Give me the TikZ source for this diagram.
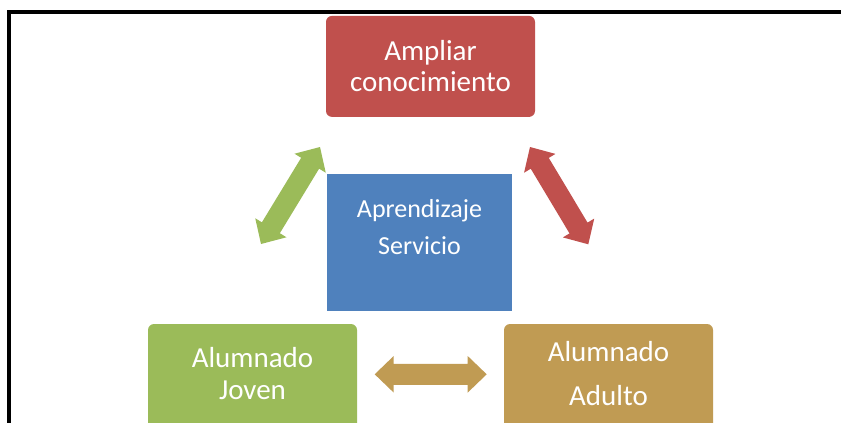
\documentclass[tikz,border=0pt]{standalone}
\usepackage{fontspec}
\setmainfont{Carlito}
\usetikzlibrary{calc}
\definecolor{redbox}{HTML}{C0504D}
\definecolor{bluebox}{HTML}{4F81BD}
\definecolor{greenbox}{HTML}{9BBB59}
\definecolor{goldbox}{RGB}{192,155,83}
\tikzset{
  box/.style={draw=none, inner sep=0pt, outer sep=0pt, rounded corners=6pt, minimum width=209pt},
  lbl/.style={text=white, inner sep=0pt, anchor=base, font=\fontsize{29}{35}\selectfont},
  lblsmall/.style={lbl, font=\fontsize{26}{31}\selectfont},
  frame/.style={draw=black, line width=4.6pt},
}
% block double arrow from tip #1 to tip #2, colour #3
\newcommand{\blockarrow}[3]{%
  \fill[#3] (#1)
    -- ($(#1)!19pt!(#2)!18.3pt!90:(#2)$)
    -- ($(#1)!19pt!(#2)!10.5pt!90:(#2)$)
    -- ($(#2)!19pt!(#1)!10.5pt!-90:(#1)$)
    -- ($(#2)!19pt!(#1)!18.3pt!-90:(#1)$)
    -- (#2)
    -- ($(#2)!19pt!(#1)!18.3pt!90:(#1)$)
    -- ($(#2)!19pt!(#1)!10.5pt!90:(#1)$)
    -- ($(#1)!19pt!(#2)!10.5pt!-90:(#2)$)
    -- ($(#1)!19pt!(#2)!18.3pt!-90:(#2)$)
    -- cycle;}
\begin{document}
\begin{tikzpicture}[x=1pt,y=-1pt]
\useasboundingbox (0,0) rectangle (841,423);
\clip (0,0) rectangle (841,423);
\draw[frame] (9,11.8) rectangle (900,500);
% boxes
\node[box, fill=redbox, minimum height=101pt] (amp) at (430.5,66.4) {};
\node[box, fill=bluebox, rounded corners=0pt, minimum width=185pt, minimum height=137pt] (aps) at (419.5,242.5) {};
\node[box, fill=greenbox, minimum height=116pt] (jov) at (252.5,382) {};
\node[box, fill=goldbox, minimum height=116pt] (adu) at (608.5,382) {};
% labels
\node[lbl] (amp1) at (430.5,60) {Ampliar};
\node[lbl] (amp2) at (430.5,91) {conocimiento};
\node[lblsmall] (aps1) at (419.5,217) {Aprendizaje};
\node[lblsmall] (aps2) at (419.5,254) {Servicio};
\node[lbl] (jov1) at (252.5,367) {Alumnado};
\node[lbl] (jov2) at (252.5,399) {Joven};
\node[lbl] (adu1) at (608.5,361) {Alumnado};
\node[lbl] (adu2) at (608.5,405) {Adulto};
% arrow tips
\coordinate (gA) at (320,147);
\coordinate (gB) at (261,244);
\coordinate (rA) at (530,147);
\coordinate (rB) at (588.3,244.3);
\coordinate (yA) at (374.7,374.3);
\coordinate (yB) at (486.7,374.3);
\blockarrow{gA}{gB}{greenbox}
\blockarrow{rA}{rB}{redbox}
\blockarrow{yA}{yB}{goldbox}
\end{tikzpicture}
\end{document}
